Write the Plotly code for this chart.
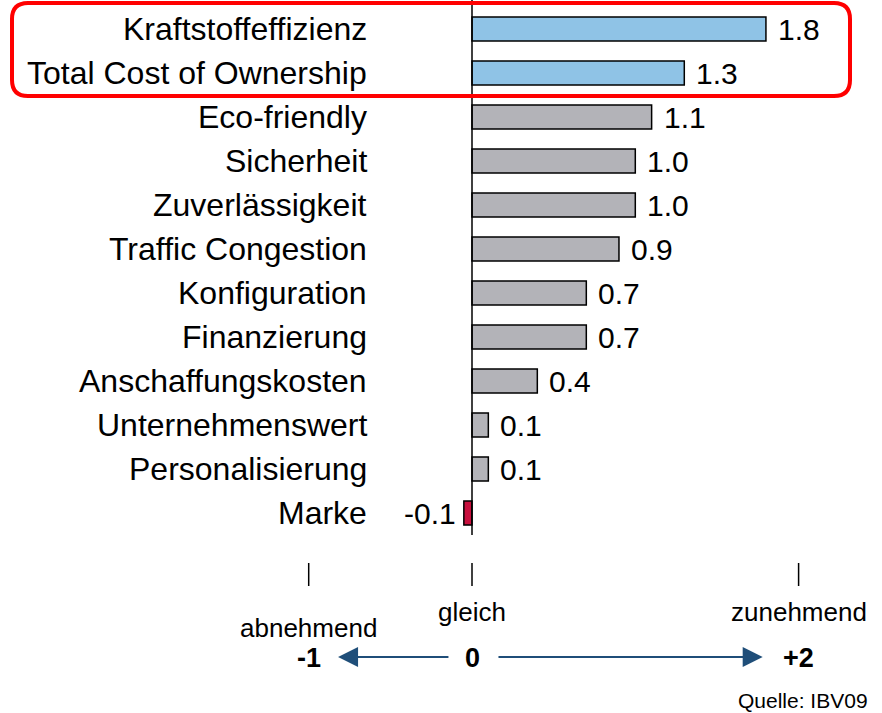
import plotly.graph_objects as go

# Chart data
categories = ["Kraftstoffeffizienz", "Total Cost of Ownership", "Eco-friendly", "Sicherheit",
              "Zuverlässigkeit", "Traffic Congestion", "Konfiguration", "Finanzierung",
              "Anschaffungskosten", "Unternehmenswert", "Personalisierung", "Marke"]
values = [1.8, 1.3, 1.1, 1.0, 1.0, 0.9, 0.7, 0.7, 0.4, 0.1, 0.1, -0.05]
value_labels = ["1.8", "1.3", "1.1", "1.0", "1.0", "0.9", "0.7", "0.7", "0.4", "0.1", "0.1", "-0.1"]
highlighted = ["Kraftstoffeffizienz", "Total Cost of Ownership"]

scale_ticks = [-1, 0, 2]
scale_tick_text = ["-1", "0", "+2"]
scale_words = ["abnehmend", "gleich", "zunehmend"]
source_text = "Quelle: IBV09"

W, H = 882, 713
FONT = "Liberation Sans, Arial, sans-serif"

BLUE = "#8fc3e6"
GREY = "#b3b3b8"
RED = "#c8103e"
ARROW = "#1f4e79"

colors = []
for c, v in zip(categories, values):
    if v < 0:
        colors.append(RED)
    elif c in highlighted:
        colors.append(BLUE)
    else:
        colors.append(GREY)

fig = go.Figure()
fig.add_trace(go.Bar(
    x=values, y=categories, orientation="h", width=0.55,
    marker=dict(color=colors, line=dict(color="black", width=1.5)),
    hoverinfo="skip", showlegend=False,
))
# empty trace so the pixel helper axes exist
fig.add_trace(go.Scatter(x=[], y=[], xaxis="x2", yaxis="y2", showlegend=False))

annotations = []
# category labels and value labels
for c, v, t in zip(categories, values, value_labels):
    annotations.append(dict(x=-0.63, y=c, xref="x", yref="y", text=c, showarrow=False,
                            xanchor="right", font=dict(size=32, color="black", family=FONT)))
    annotations.append(dict(x=v, y=c, xref="x", yref="y", text=t, showarrow=False,
                            xanchor="left" if v >= 0 else "right", xshift=10 if v >= 0 else -6,
                            font=dict(size=30, color="black", family=FONT)))

shapes = []
# zero line
shapes.append(dict(type="line", xref="x", yref="y2", x0=0, x1=0, y0=0, y1=535,
                   line=dict(color="black", width=1.5)))

# bottom scale
for v, t, w in zip(scale_ticks, scale_tick_text, scale_words):
    shapes.append(dict(type="line", xref="x", yref="y2", x0=v, x1=v, y0=563, y1=586,
                       line=dict(color="black", width=1.5)))
    annotations.append(dict(x=v, y=658, xref="x", yref="y2", text="<b>" + t + "</b>", showarrow=False,
                            font=dict(size=27, color="black", family=FONT)))
    annotations.append(dict(x=v, y=628 if v < 0 else 612, xref="x", yref="y2", text=w, showarrow=False,
                            font=dict(size=26, color="black", family=FONT)))

# arrows
annotations.append(dict(x=-0.82, y=657, ax=-0.135, ay=657, xref="x", yref="y2", axref="x", ayref="y2",
                        text="", showarrow=True, arrowhead=2, arrowsize=2, arrowwidth=2, arrowcolor=ARROW))
annotations.append(dict(x=1.78, y=657, ax=0.153, ay=657, xref="x", yref="y2", axref="x", ayref="y2",
                        text="", showarrow=True, arrowhead=2, arrowsize=2, arrowwidth=2, arrowcolor=ARROW))

annotations.append(dict(x=870, y=700, xref="x2", yref="y2", text=source_text, showarrow=False,
                        xanchor="right", font=dict(size=21, color="black", family=FONT)))

# rounded highlight box
x0, x1, y0, y1, r = 12, 850, 3, 96, 16
path = (f"M {x0 + r} {y0} L {x1 - r} {y0} Q {x1} {y0} {x1} {y0 + r} "
        f"L {x1} {y1 - r} Q {x1} {y1} {x1 - r} {y1} "
        f"L {x0 + r} {y1} Q {x0} {y1} {x0} {y1 - r} "
        f"L {x0} {y0 + r} Q {x0} {y0} {x0 + r} {y0} Z")
shapes.append(dict(type="path", xref="x2", yref="y2", path=path, line=dict(color="#ff0000", width=4)))

fig.update_layout(
    width=W, height=H,
    margin=dict(l=0, r=0, t=0, b=0),
    plot_bgcolor="white", paper_bgcolor="white",
    xaxis=dict(range=[-472 / 163.3, (W - 472) / 163.3], visible=False, fixedrange=True),
    yaxis=dict(type="category", categoryorder="array", categoryarray=categories,
               range=[15.545, -0.659], visible=False),
    xaxis2=dict(range=[0, W], overlaying="x", visible=False),
    yaxis2=dict(range=[H, 0], overlaying="y", visible=False),
    annotations=annotations,
    shapes=shapes,
    font=dict(family=FONT),
)

# drop the page's default body margin so the figure sits at the window's corner
fig.write_html("out.html", config=dict(displayModeBar=False),
               post_script="document.body.style.margin='0px';document.body.style.overflow='hidden';")
